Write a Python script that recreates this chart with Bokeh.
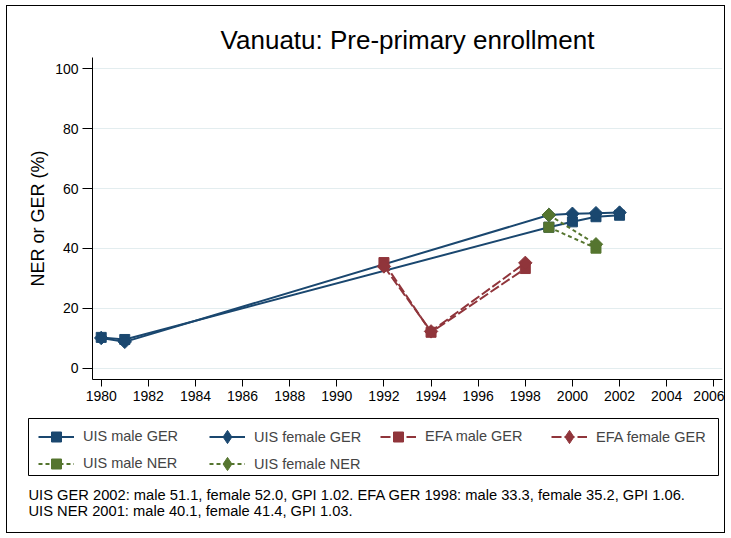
import math
from bokeh.plotting import figure
from bokeh.layouts import column
from bokeh.models import (Range1d, FixedTicker, Legend, LegendItem, ColumnDataSource, Label,
                          BoxAnnotation)
from bokeh.embed import file_html
from bokeh.resources import INLINE

# ---- data ----
years_uis = [1980, 1981, 1999, 2000, 2001, 2002]
uis_male_ger = [10.3, 9.6, 47.1, 48.9, 50.6, 51.1]
uis_female_ger = [10.1, 8.8, 51.2, 51.6, 51.8, 52.0]
years_efa = [1992, 1994, 1998]
efa_male_ger = [35.3, 12.0, 33.3]
efa_female_ger = [34.0, 12.3, 35.2]
years_ner = [1999, 2001]
uis_male_ner = [47.1, 40.1]
uis_female_ner = [51.2, 41.4]

x_ticks = list(range(1980, 2007, 2))
y_ticks = [0, 20, 40, 60, 80, 100]

title_text = "Vanuatu: Pre-primary enrollment"
y_title = "NER or GER (%)"
legend_labels = ["UIS male GER", "UIS female GER", "EFA male GER", "EFA female GER",
                 "UIS male NER", "UIS female NER"]
note1 = "UIS GER 2002: male 51.1, female 52.0, GPI 1.02. EFA GER 1998: male 33.3, female 35.2, GPI 1.06."
note2 = "UIS NER 2001: male 40.1, female 41.4, GPI 1.03."

NAVY = "#1a476f"
MAROON = "#90353b"
GREEN = "#55752f"
FONT = "Liberation Sans"

W = 717
HA, HB = 404, 122

# ---------- main plot ----------
p = figure(width=W, height=HA, output_backend="svg", toolbar_location=None,
           x_range=Range1d(1979.63, 2006.37), y_range=Range1d(-3.77, 103.8),
           min_border_left=85, min_border_right=2, min_border_top=51, min_border_bottom=31)
p.frame_align = False
p.outline_line_color = None
p.background_fill_color = "white"
p.border_fill_color = "white"

p.title.text = title_text
p.title.text_font = FONT
p.title.text_font_size = "26px"
p.title.text_font_style = "normal"
p.title.text_color = "black"
p.title.align = "center"
p.title.standoff = 5

p.xaxis.ticker = FixedTicker(ticks=x_ticks)
p.yaxis.ticker = FixedTicker(ticks=y_ticks)
p.xaxis.minor_tick_line_color = None
p.yaxis.minor_tick_line_color = None
p.xaxis.major_tick_out = 7
p.xaxis.major_tick_in = 0
p.yaxis.major_tick_out = 10
p.yaxis.major_tick_in = 0
for ax in (p.xaxis, p.yaxis):
    ax.axis_line_color = "black"
    ax.major_tick_line_color = "black"
    ax.major_label_text_font = FONT
    ax.major_label_text_font_size = "14px"
    ax.major_label_text_color = "black"
    ax.major_label_standoff = 4
p.yaxis.axis_label = y_title
p.yaxis.axis_label_text_font = FONT
p.yaxis.axis_label_text_font_size = "18px"
p.yaxis.axis_label_text_font_style = "normal"
p.yaxis.axis_label_text_color = "black"
p.yaxis.axis_label_standoff = 4
p.xgrid.grid_line_color = None
p.ygrid.grid_line_color = "#e3edef"
p.ygrid.grid_line_width = 1

D = math.pi / 4
specs = [
    (years_uis, uis_male_ger, NAVY, "solid", False),
    (years_uis, uis_female_ger, NAVY, "solid", True),
    (years_efa, efa_male_ger, MAROON, "10 3", False),
    (years_efa, efa_female_ger, MAROON, "10 3", True),
    (years_ner, uis_male_ner, GREEN, "4 3", False),
    (years_ner, uis_female_ner, GREEN, "4 3", True),
]

sources = []
for xs, ys, c, d, dia in specs:
    src = ColumnDataSource(dict(x=xs, y=ys))
    sources.append(src)
    p.line("x", "y", source=src, line_color=c, line_width=2, line_dash=d)
    p.scatter("x", "y", source=src, marker="square", size=9.5 if dia else 10,
              angle=D if dia else 0, fill_color=c, line_color=c)

# ---------- legend + notes panel ----------
q = figure(width=W, height=HB, output_backend="svg", toolbar_location=None,
           x_range=Range1d(0, W), y_range=Range1d(HB, 0),
           x_axis_type=None, y_axis_type=None,
           min_border_left=0, min_border_right=0, min_border_top=0, min_border_bottom=0)
q.frame_align = False
q.outline_line_color = None
q.xgrid.grid_line_color = None
q.ygrid.grid_line_color = None
q.background_fill_color = "white"
q.border_fill_color = "white"

sq_items, dia_items = [], []
for (xs, ys, c, d, dia), src, lab in zip(specs, sources, legend_labels):
    lr = q.line("x", "y", source=src, line_color=c, line_width=2, line_dash=d, visible=False)
    sr = q.scatter("x", "y", source=src, marker="diamond" if dia else "square",
                   size=10, fill_color=c, line_color=c, visible=False)
    (dia_items if dia else sq_items).append(LegendItem(label=lab, renderers=[lr, sr]))

q.add_layout(BoxAnnotation(left=21, right=711, top=8, bottom=65, fill_alpha=0,
                           line_color="black", line_width=1, line_alpha=1))

common = dict(orientation="horizontal", ncols=2, glyph_width=36, label_standoff=9,
              padding=0, margin=0, label_text_font=FONT, label_text_font_size="14.5px",
              border_line_color=None, background_fill_alpha=0)
leg_sq = Legend(items=sq_items, location=(31, 56.5), glyph_height=25, label_height=25,
                label_width=295, spacing=2, **common)
leg_dia1 = Legend(items=dia_items[:2], location=(202, 79), glyph_height=33, label_height=33,
                  label_width=297, spacing=0, **common)
leg_dia2 = Legend(items=dia_items[2:], location=(202, 52), glyph_height=33, label_height=33,
                  label_width=297, spacing=0, **common)
for lg in (leg_sq, leg_dia1, leg_dia2):
    q.add_layout(lg, "center")

for txt, yy in ((note1, 38), (note2, 22)):
    q.add_layout(Label(x=21, y=yy, x_units="screen", y_units="screen", text=txt,
                       text_font=FONT, text_font_size="14.7px", text_align="left",
                       text_baseline="middle", text_color="black"))

layout = column(p, q, spacing=0, margin=(5, 0, 0, 6),
                styles={"border": "1px solid #000000"})
open("out.html", "w").write(file_html(layout, INLINE))
